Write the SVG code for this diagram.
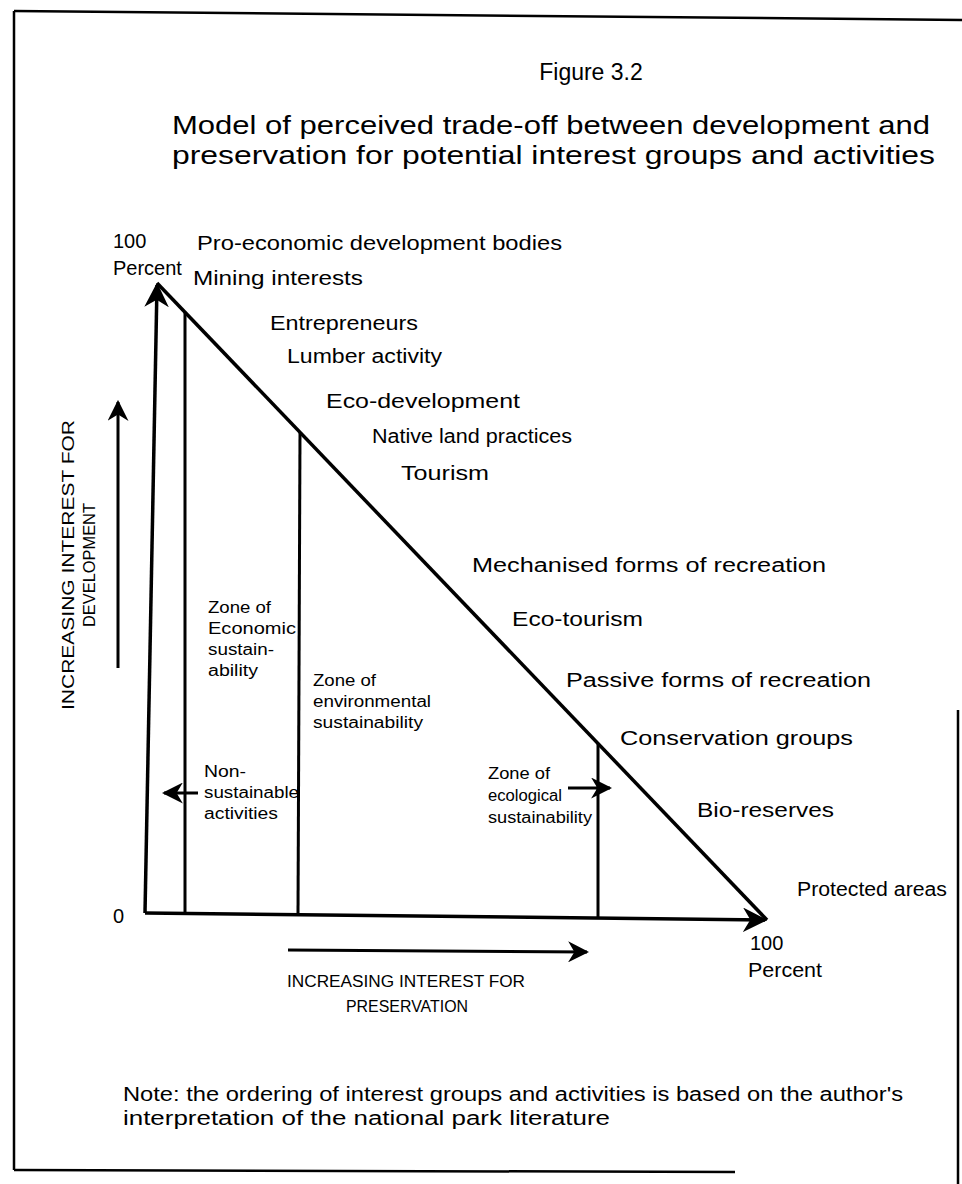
<svg xmlns="http://www.w3.org/2000/svg" width="962" height="1184" viewBox="0 0 962 1184">
<style>
text{font-family:"Liberation Sans",Arial,sans-serif;fill:#000}
.t{font-size:23px}
.h{font-size:26px}
.l{font-size:20px}
.p{font-size:20px}
.z{font-size:16px}
.c{font-size:16px}
.v{font-size:17px}
.n{font-size:20px}
.ln{stroke:#000;stroke-width:3;fill:none}
.ax{stroke:#000;stroke-width:3.5;fill:none}
.bd{stroke:#000;stroke-width:2.5;fill:none}
</style>
<defs>
<marker id="ahb" viewBox="0 0 10 10" refX="9" refY="5" markerWidth="7" markerHeight="7" orient="auto">
<path d="M0,0 L10,5 L0,10 L3,5 z" fill="#000"/>
</marker>
</defs>
<rect width="962" height="1184" fill="#fff"/>
<g id="border">
<path class="bd" d="M14,11 L962,20"/>
<path class="bd" d="M14,11 L14,1170"/>
<path class="bd" d="M14,1170 L735,1172"/>
<path class="bd" d="M958,710 L958,1184"/>
</g>
<g id="title">
<text class="t" x="591" y="80" text-anchor="middle">Figure 3.2</text>
<text class="h" x="172" y="134" textLength="758" lengthAdjust="spacingAndGlyphs">Model of perceived trade-off between development and</text>
<text class="h" x="172" y="164" textLength="763" lengthAdjust="spacingAndGlyphs">preservation for potential interest groups and activities</text>
</g>
<g id="connectors">
<line class="ax" x1="145" y1="913" x2="157" y2="285" marker-end="url(#ahb)"/>
<line class="ax" x1="145" y1="913" x2="765" y2="920" marker-end="url(#ahb)"/>
<line class="ax" x1="157" y1="283" x2="767" y2="920"/>
<line class="ln" x1="185" y1="312" x2="185" y2="914"/>
<line class="ln" x1="300" y1="432" x2="298" y2="915"/>
<line class="ln" x1="598" y1="743" x2="598" y2="918"/>
<line class="ln" x1="118" y1="668" x2="118" y2="402" marker-end="url(#ahb)"/>
<line class="ln" x1="288" y1="950" x2="587" y2="952" marker-end="url(#ahb)"/>
<line class="ln" x1="198" y1="793" x2="164" y2="793" marker-end="url(#ahb)"/>
<line class="ln" x1="568" y1="788" x2="610" y2="788" marker-end="url(#ahb)"/>
</g>
<g id="axis-labels">
<text class="p" x="113" y="248">100</text>
<text class="p" x="113" y="275">Percent</text>
<text class="p" x="113" y="923">0</text>
<text class="p" x="750" y="950">100</text>
<text class="p" x="748" y="977" textLength="74" lengthAdjust="spacingAndGlyphs">Percent</text>
<g transform="translate(74,565) rotate(-90)">
<text class="v" x="0" y="0" text-anchor="middle" textLength="290" lengthAdjust="spacingAndGlyphs">INCREASING INTEREST FOR</text>
<text class="v" x="0" y="21" text-anchor="middle" textLength="124" lengthAdjust="spacingAndGlyphs">DEVELOPMENT</text>
</g>
<text class="c" x="406" y="987" text-anchor="middle" textLength="238" lengthAdjust="spacingAndGlyphs">INCREASING INTEREST FOR</text>
<text class="c" x="407" y="1012" text-anchor="middle" textLength="122" lengthAdjust="spacingAndGlyphs">PRESERVATION</text>
</g>
<g id="groups">
<text class="l" x="197" y="250" textLength="365" lengthAdjust="spacingAndGlyphs">Pro-economic development bodies</text>
<text class="l" x="193" y="285" textLength="170" lengthAdjust="spacingAndGlyphs">Mining interests</text>
<text class="l" x="270" y="330" textLength="148" lengthAdjust="spacingAndGlyphs">Entrepreneurs</text>
<text class="l" x="287" y="363" textLength="155" lengthAdjust="spacingAndGlyphs">Lumber activity</text>
<text class="l" x="326" y="408" textLength="194" lengthAdjust="spacingAndGlyphs">Eco-development</text>
<text class="l" x="372" y="443" textLength="200" lengthAdjust="spacingAndGlyphs">Native land practices</text>
<text class="l" x="401" y="480" textLength="88" lengthAdjust="spacingAndGlyphs">Tourism</text>
<text class="l" x="472" y="572" textLength="354" lengthAdjust="spacingAndGlyphs">Mechanised forms of recreation</text>
<text class="l" x="512" y="626" textLength="131" lengthAdjust="spacingAndGlyphs">Eco-tourism</text>
<text class="l" x="566" y="687" textLength="305" lengthAdjust="spacingAndGlyphs">Passive forms of recreation</text>
<text class="l" x="620" y="745" textLength="233" lengthAdjust="spacingAndGlyphs">Conservation groups</text>
<text class="l" x="697" y="817" textLength="137" lengthAdjust="spacingAndGlyphs">Bio-reserves</text>
<text class="l" x="797" y="896" textLength="150" lengthAdjust="spacingAndGlyphs">Protected areas</text>
</g>
<g id="zones">
<text class="z" x="208" y="613" textLength="63" lengthAdjust="spacingAndGlyphs">Zone of</text>
<text class="z" x="208" y="634" textLength="88" lengthAdjust="spacingAndGlyphs">Economic</text>
<text class="z" x="208" y="655" textLength="66" lengthAdjust="spacingAndGlyphs">sustain-</text>
<text class="z" x="208" y="676" textLength="50" lengthAdjust="spacingAndGlyphs">ability</text>
<text class="z" x="313" y="686" textLength="63" lengthAdjust="spacingAndGlyphs">Zone of</text>
<text class="z" x="313" y="707" textLength="118" lengthAdjust="spacingAndGlyphs">environmental</text>
<text class="z" x="313" y="728" textLength="110" lengthAdjust="spacingAndGlyphs">sustainability</text>
<text class="z" x="204" y="777" textLength="42" lengthAdjust="spacingAndGlyphs">Non-</text>
<text class="z" x="204" y="798" textLength="95" lengthAdjust="spacingAndGlyphs">sustainable</text>
<text class="z" x="204" y="819" textLength="74" lengthAdjust="spacingAndGlyphs">activities</text>
<text class="z" x="488" y="779" textLength="62" lengthAdjust="spacingAndGlyphs">Zone of</text>
<text class="z" x="488" y="801" textLength="74" lengthAdjust="spacingAndGlyphs">ecological</text>
<text class="z" x="488" y="823" textLength="104" lengthAdjust="spacingAndGlyphs">sustainability</text>
</g>
<g id="note">
<text class="n" x="123" y="1101" textLength="780" lengthAdjust="spacingAndGlyphs">Note: the ordering of interest groups and activities is based on the author's</text>
<text class="n" x="123" y="1125" textLength="487" lengthAdjust="spacingAndGlyphs">interpretation of the national park literature</text>
</g>
</svg>
